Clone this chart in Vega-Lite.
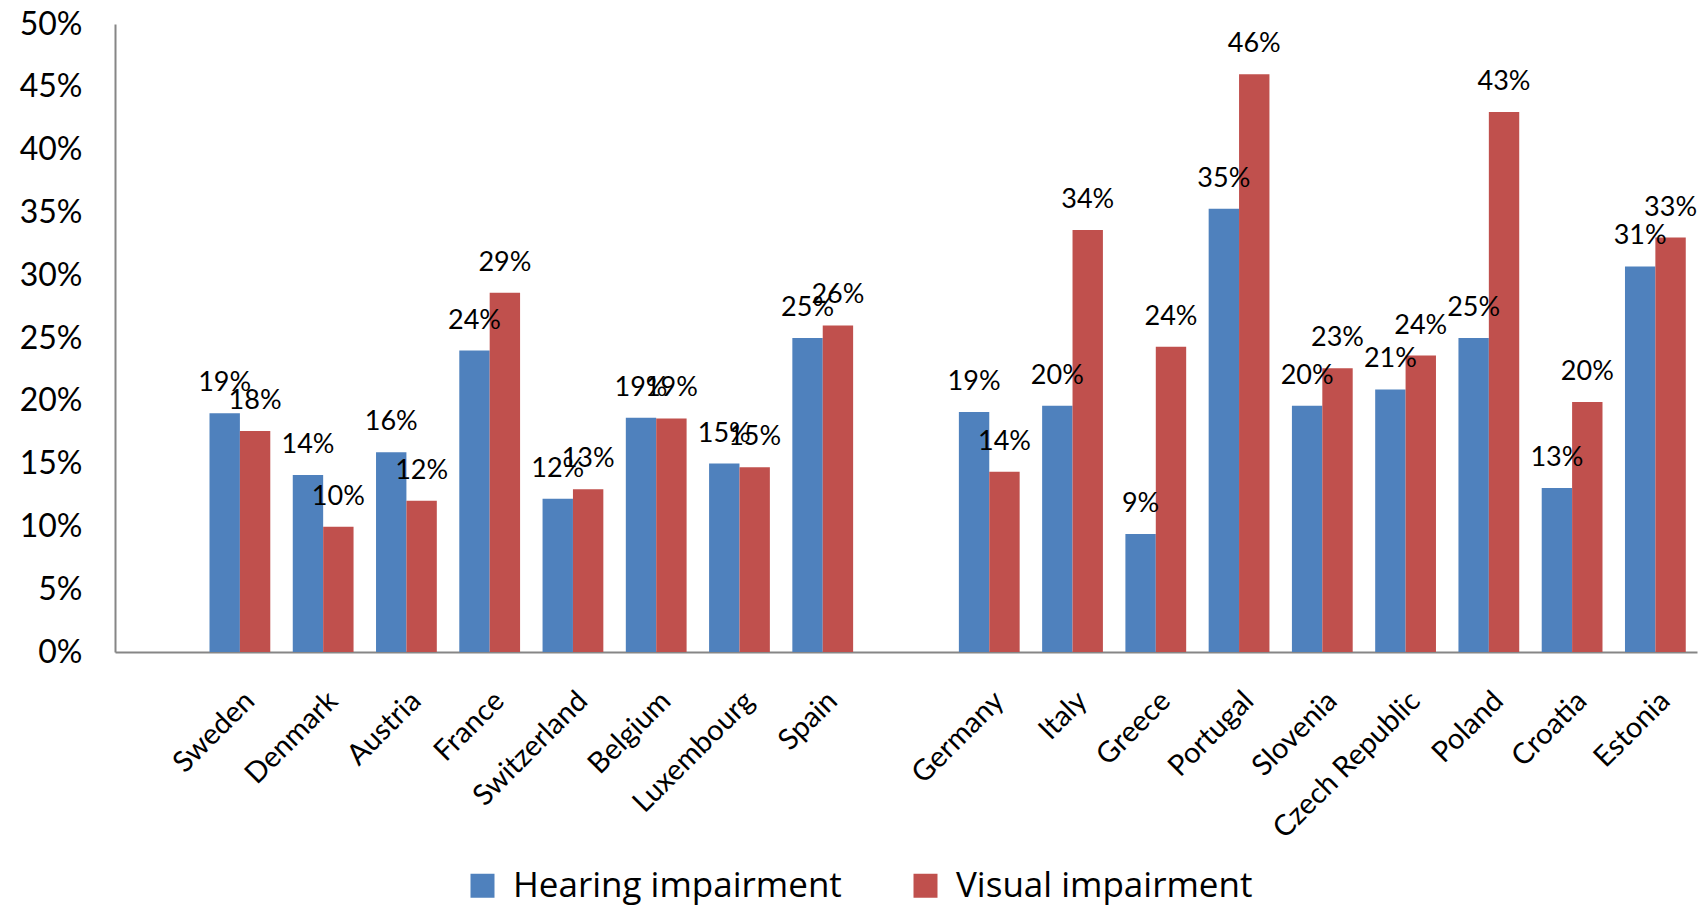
{
  "$schema": "https://vega.github.io/schema/vega-lite/v6.json",
  "autosize": {"type": "none"},
  "width": 1582,
  "height": 628,
  "padding": {"left": 115, "top": 24, "right": 9, "bottom": 256},
  "background": "white",
  "config": {"view": {"stroke": null}, "font": "Lato", "text": {"color": "black"}},
  "data": {
    "values": [
      {"country": "Sweden", "series": "Hearing impairment", "value": 0.190},
      {"country": "Sweden", "series": "Visual impairment", "value": 0.176},
      {"country": "Denmark", "series": "Hearing impairment", "value": 0.141},
      {"country": "Denmark", "series": "Visual impairment", "value": 0.0998},
      {"country": "Austria", "series": "Hearing impairment", "value": 0.159},
      {"country": "Austria", "series": "Visual impairment", "value": 0.1205},
      {"country": "France", "series": "Hearing impairment", "value": 0.240},
      {"country": "France", "series": "Visual impairment", "value": 0.286},
      {"country": "Switzerland", "series": "Hearing impairment", "value": 0.122},
      {"country": "Switzerland", "series": "Visual impairment", "value": 0.1295},
      {"country": "Belgium", "series": "Hearing impairment", "value": 0.1865},
      {"country": "Belgium", "series": "Visual impairment", "value": 0.186},
      {"country": "Luxembourg", "series": "Hearing impairment", "value": 0.150},
      {"country": "Luxembourg", "series": "Visual impairment", "value": 0.147},
      {"country": "Spain", "series": "Hearing impairment", "value": 0.250},
      {"country": "Spain", "series": "Visual impairment", "value": 0.260},
      {"country": "Germany", "series": "Hearing impairment", "value": 0.191},
      {"country": "Germany", "series": "Visual impairment", "value": 0.1435},
      {"country": "Italy", "series": "Hearing impairment", "value": 0.196},
      {"country": "Italy", "series": "Visual impairment", "value": 0.336},
      {"country": "Greece", "series": "Hearing impairment", "value": 0.094},
      {"country": "Greece", "series": "Visual impairment", "value": 0.243},
      {"country": "Portugal", "series": "Hearing impairment", "value": 0.353},
      {"country": "Portugal", "series": "Visual impairment", "value": 0.460},
      {"country": "Slovenia", "series": "Hearing impairment", "value": 0.196},
      {"country": "Slovenia", "series": "Visual impairment", "value": 0.226},
      {"country": "Czech Republic", "series": "Hearing impairment", "value": 0.209},
      {"country": "Czech Republic", "series": "Visual impairment", "value": 0.236},
      {"country": "Poland", "series": "Hearing impairment", "value": 0.250},
      {"country": "Poland", "series": "Visual impairment", "value": 0.430},
      {"country": "Croatia", "series": "Hearing impairment", "value": 0.1306},
      {"country": "Croatia", "series": "Visual impairment", "value": 0.199},
      {"country": "Estonia", "series": "Hearing impairment", "value": 0.307},
      {"country": "Estonia", "series": "Visual impairment", "value": 0.330}
    ]
  },
  "encoding": {
    "x": {
      "field": "country",
      "type": "nominal",
      "sort": null,
      "scale": {
        "domain": [" ", "Sweden", "Denmark", "Austria", "France", "Switzerland", "Belgium", "Luxembourg", "Spain", "  ", "Germany", "Italy", "Greece", "Portugal", "Slovenia", "Czech Republic", "Poland", "Croatia", "Estonia"],
        "paddingInner": 0.27,
        "paddingOuter": 0.135
      },
      "axis": {
        "title": null,
        "labelAngle": -45,
        "labelFontSize": 29,
        "labelColor": "black",
        "labelPadding": 34,
        "labelLimit": 0,
        "ticks": false,
        "domainColor": "#868686",
        "domainWidth": 2,
        "grid": false
      }
    },
    "xOffset": {"field": "series", "type": "nominal", "scale": {"domain": ["Hearing impairment", "Visual impairment"]}},
    "y": {
      "field": "value",
      "type": "quantitative",
      "scale": {"domain": [0, 0.5], "nice": false},
      "axis": {
        "title": null,
        "values": [0, 0.05, 0.1, 0.15, 0.2, 0.25, 0.3, 0.35, 0.4, 0.45, 0.5],
        "format": ".0%",
        "labelFontSize": 32,
        "labelColor": "black",
        "labelPadding": 33,
        "ticks": false,
        "grid": false,
        "domainColor": "#868686",
        "domainWidth": 2
      }
    }
  },
  "layer": [
    {
      "mark": {"type": "bar"},
      "encoding": {
        "color": {
          "field": "series",
          "type": "nominal",
          "scale": {"domain": ["Hearing impairment", "Visual impairment"], "range": ["#4F81BD", "#C0504D"]},
          "legend": {
            "title": null,
            "orient": "none",
            "direction": "horizontal",
            "legendX": 350,
            "legendY": 844,
            "symbolType": "square",
            "symbolSize": 576,
            "symbolStrokeWidth": 0,
            "labelFont": "Open Sans",
            "labelFontSize": 35,
            "labelLimit": 0,
            "labelColor": "black",
            "labelOffset": 13,
            "columnPadding": 66,
            "padding": 0
          }
        }
      }
    },
    {
      "mark": {"type": "text", "dy": -30, "fontSize": 27, "baseline": "middle"},
      "encoding": {"text": {"field": "value", "type": "quantitative", "format": ".0%"}}
    }
  ]
}
